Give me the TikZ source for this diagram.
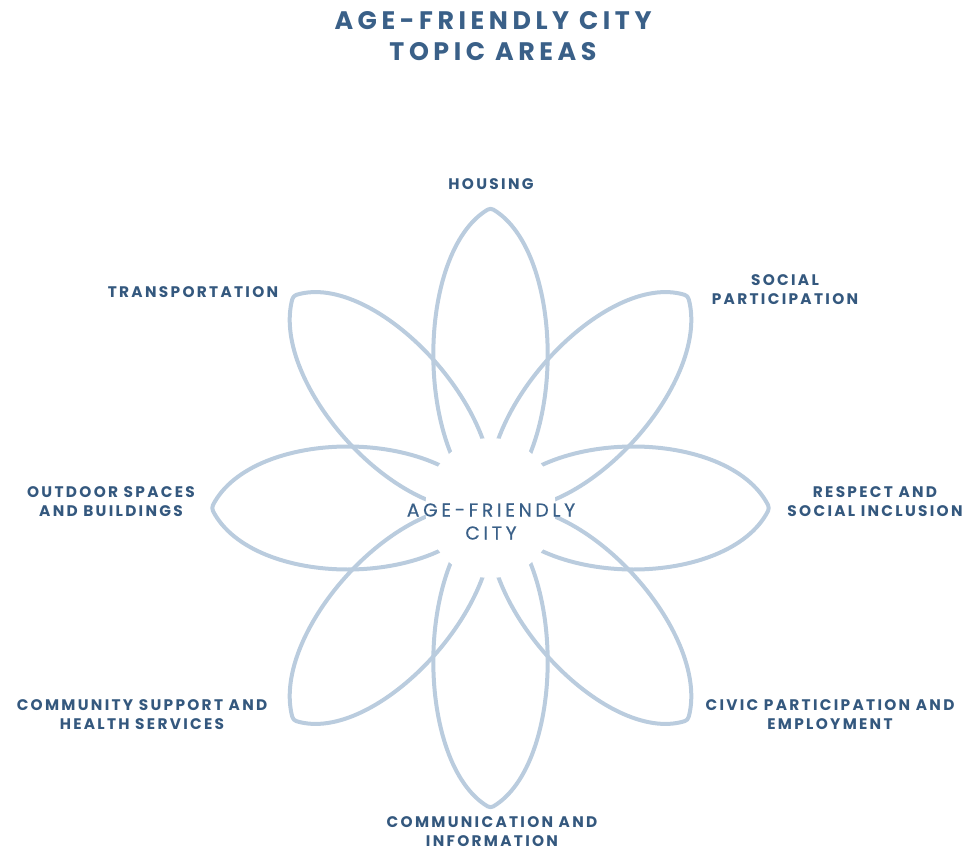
\documentclass[tikz,border=0pt]{standalone}
\usepackage{fontspec}
\setmainfont{Poppins}
\newfontfamily\titlefont{Poppins}[LetterSpace=18]
\newfontfamily\labelfont{Poppins}[LetterSpace=15]
\newfontfamily\hubfont{Poppins}[LetterSpace=20,FakeBold=0.6]
\definecolor{petalblue}{HTML}{BACCDE}
\definecolor{inkblue}{HTML}{34587E}
\definecolor{titleblue}{HTML}{3A6088}
\begin{document}
\begin{tikzpicture}[x=0.75pt,y=-0.75pt,
  petal/.style={draw=petalblue, line width=3pt, line join=round},
  topic/.style={text=inkblue, align=center, inner sep=0pt,
    font=\labelfont\bfseries\fontsize{11.5}{14.25}\selectfont},
  heading/.style={text=titleblue, align=center, inner sep=0pt,
    font=\titlefont\bfseries\fontsize{19}{23.25}\selectfont},
  hub/.style={text=titleblue, align=center, inner sep=0pt,
    font=\hubfont\fontsize{14}{17.25}\selectfont}]
\useasboundingbox (0,0) rectangle (967,852);

% eight petals around the hub, each with a rounded outer tip
\foreach \a in {0,45,...,315}{
  \draw[petal, shift={(490.5,508)}, xscale=0.93, rotate=\a]
    (0,0) .. controls (-83,-54) and (-80,-256) .. (-3,-298.4)
          .. controls (-1.2,-299.4) and (1.2,-299.4) .. (3,-298.4)
          .. controls (80,-256) and (83,-54) .. (0,0);
}
% open the inner ends of the petals
\fill[white, shift={(490.5,508)}, xscale=0.93] (0,0) circle (70);

\node[heading] (title) at (493,36) {AGE-FRIENDLY CITY\\TOPIC AREAS};
\node[hub] (hub) at (491,521.5) {AGE-FRIENDLY\\CITY};

\node[topic] (housing) at (491,184) {HOUSING};
\node[topic] (transport) at (193,292) {TRANSPORTATION};
\node[topic] (social) at (785,290) {SOCIAL\\PARTICIPATION};
\node[topic] (outdoor) at (111,502) {OUTDOOR SPACES\\AND BUILDINGS};
\node[topic] (respect) at (875,502) {RESPECT AND\\SOCIAL INCLUSION};
\node[topic] (community) at (142,714.5) {COMMUNITY SUPPORT AND\\HEALTH SERVICES};
\node[topic] (civic) at (830,714.5) {CIVIC PARTICIPATION AND\\EMPLOYMENT};
\node[topic] (communication) at (492,832) {COMMUNICATION AND\\INFORMATION};
\end{tikzpicture}
\end{document}
